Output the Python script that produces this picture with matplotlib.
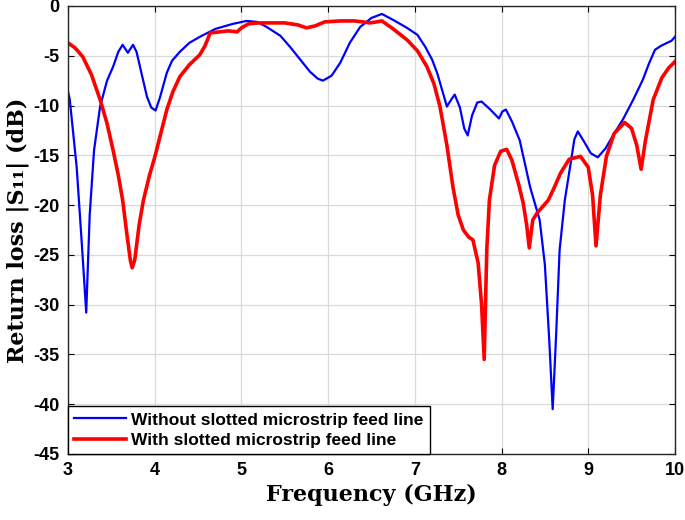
import numpy as np
import matplotlib
matplotlib.use("Agg")
import matplotlib.pyplot as plt

plt.rcParams['axes.unicode_minus'] = False

# (GHz, dB)
f_without = [3.00, 3.02, 3.10, 3.16, 3.21, 3.25, 3.30, 3.37, 3.45, 3.52, 3.58, 3.63,
             3.69, 3.75, 3.79, 3.83, 3.91, 3.96, 4.01, 4.06, 4.14, 4.20, 4.29, 4.40,
             4.52, 4.70, 4.90, 5.06, 5.18, 5.29, 5.45, 5.56, 5.68, 5.79, 5.88, 5.94,
             6.04, 6.14, 6.25, 6.37, 6.50, 6.62, 6.75, 6.91, 7.03, 7.12, 7.20, 7.26,
             7.32, 7.37, 7.42, 7.46, 7.52, 7.57, 7.61, 7.66, 7.72, 7.77, 7.87, 7.97,
             8.01, 8.05, 8.12, 8.21, 8.33, 8.44, 8.50, 8.55, 8.59, 8.63, 8.67, 8.73,
             8.79, 8.84, 8.88, 8.95, 9.03, 9.11, 9.20, 9.30, 9.40, 9.52, 9.63, 9.70,
             9.77, 9.84, 9.91, 9.96, 10.00]
s11_without = [-8.6, -9.4, -16.2, -24.0, -30.8, -21.0, -14.5, -10.1, -7.5, -6.1, -4.6, -3.9,
               -4.7, -3.9, -4.6, -6.1, -9.1, -10.2, -10.5, -9.2, -6.7, -5.5, -4.6, -3.7,
               -3.1, -2.3, -1.8, -1.5, -1.6, -2.1, -3.0, -4.1, -5.4, -6.6, -7.3, -7.5,
               -7.0, -5.7, -3.7, -2.1, -1.2, -0.8, -1.4, -2.2, -2.9, -4.1, -5.4, -6.8,
               -8.6, -10.1, -9.4, -8.9, -10.2, -12.3, -13.0, -11.0, -9.7, -9.6, -10.4, -11.3,
               -10.6, -10.4, -11.6, -13.5, -18.2, -21.5, -26.0, -33.5, -40.5, -33.0, -24.5, -19.5,
               -16.2, -13.4, -12.6, -13.6, -14.8, -15.2, -14.3, -12.8, -11.4, -9.4, -7.4, -5.8,
               -4.4, -4.0, -3.7, -3.5, -3.1]

f_with = [3.00, 3.08, 3.17, 3.27, 3.37, 3.45, 3.52, 3.58, 3.63, 3.68, 3.72, 3.74,
          3.77, 3.82, 3.87, 3.94, 4.00, 4.07, 4.14, 4.21, 4.29, 4.40, 4.52, 4.58,
          4.64, 4.75, 4.85, 4.95, 5.00, 5.08, 5.20, 5.30, 5.50, 5.65, 5.75, 5.85,
          5.96, 6.14, 6.30, 6.40, 6.48, 6.56, 6.62, 6.75, 6.91, 7.03, 7.14, 7.22,
          7.29, 7.37, 7.44, 7.50, 7.56, 7.62, 7.67, 7.73, 7.77, 7.80, 7.83, 7.86,
          7.92, 7.99, 8.06, 8.12, 8.20, 8.25, 8.29, 8.32, 8.36, 8.41, 8.48, 8.54,
          8.61, 8.68, 8.78, 8.91, 9.00, 9.05, 9.09, 9.14, 9.21, 9.30, 9.42, 9.50,
          9.56, 9.61, 9.66, 9.75, 9.85, 9.93, 10.00]
s11_with = [-3.7, -4.2, -5.1, -6.9, -9.4, -11.8, -14.5, -17.0, -19.5, -23.0, -25.6, -26.3,
            -25.5, -22.0, -19.5, -17.0, -15.2, -12.8, -10.4, -8.6, -7.1, -5.9, -4.9, -4.0,
            -2.7, -2.6, -2.5, -2.6, -2.2, -1.8, -1.7, -1.7, -1.7, -1.9, -2.2, -2.0,
            -1.6, -1.5, -1.5, -1.6, -1.7, -1.6, -1.5, -2.3, -3.4, -4.5, -6.1, -7.8,
            -10.1, -14.0, -18.2, -21.0, -22.5, -23.2, -23.5, -25.8, -30.0, -35.5, -24.5, -19.5,
            -16.0, -14.6, -14.4, -15.5, -18.0, -19.8, -22.0, -24.3, -21.5, -20.8, -20.1, -19.5,
            -18.2, -16.8, -15.4, -15.1, -16.2, -19.0, -24.1, -19.0, -15.1, -12.8, -11.7, -12.3,
            -14.0, -16.4, -13.5, -9.4, -7.2, -6.2, -5.6]

fig = plt.figure(figsize=(6.85, 5.2), dpi=100)
ax = fig.add_axes([0.0993, 0.127, 0.886, 0.8615])

ax.plot(f_without, s11_without, color="#0000ff", lw=1.6,
        label="Without slotted microstrip feed line")
ax.plot(f_with, s11_with, color="#ff0000", lw=2.6,
        label="With slotted microstrip feed line")

ax.set_xlim(3, 10)
ax.set_ylim(-45, 0)
ax.set_xticks(np.arange(3, 11, 1))
ax.set_yticks(np.arange(-45, 1, 5))
ax.grid(True, color="#d9d9d9", lw=0.9)
ax.set_axisbelow(True)
ax.tick_params(direction="in", top=True, right=True, length=4, width=0.8,
               labelsize=13, pad=6)
for lab in ax.get_xticklabels() + ax.get_yticklabels():
    lab.set_fontweight("bold")
    lab.set_family("Liberation Sans")
for sp in ax.spines.values():
    sp.set_linewidth(1.0)
    sp.set_color("#262626")

ax.set_xlabel("Frequency (GHz)", fontsize=16, fontweight="bold",
              family="DejaVu Serif", labelpad=3)
ax.set_ylabel("Return loss |S\u2081\u2081| (dB)", fontsize=16, fontweight="bold",
              family="DejaVu Serif", labelpad=3)

leg = ax.legend(loc="lower left", bbox_to_anchor=(0, 0), borderaxespad=0,
                fancybox=False, framealpha=1, edgecolor="black",
                prop={"family": "Liberation Sans", "weight": "bold", "size": 12.5},
                handlelength=3.0, handletextpad=0.3, borderpad=0.35, labelspacing=0.3)
leg.get_frame().set_linewidth(1.0)

plt.savefig("out.png", dpi=100)
